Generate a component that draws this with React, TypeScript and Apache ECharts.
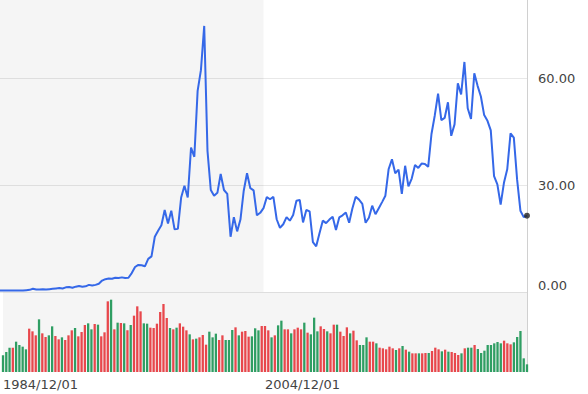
import React, { useEffect, useRef } from "react";
import * as echarts from "echarts";

// Quarterly observations, 1984/12/01 .. 2024/12/01
const startYear = 1984;
const startMonth = 12;
const quarterCount = 161;
const dates: string[] = [];
for (let i = 0; i < quarterCount; i++) {
  const m = startYear * 12 + (startMonth - 1) + i * 3;
  const y = Math.floor(m / 12);
  const mo = (m % 12) + 1;
  dates.push(`${y}/${mo < 10 ? "0" + mo : mo}/01`);
}

const prices: number[] = [
  0.4, 0.4, 0.4, 0.4, 0.4, 0.4, 0.4, 0.4, 0.5, 0.6,
  0.9, 0.7, 0.7, 0.8, 0.7, 0.8, 0.9, 1.0, 1.1, 1.0,
  1.3, 1.4, 1.2, 1.5, 1.7, 1.5, 1.6, 2.0, 1.8, 2.0,
  2.3, 3.2, 3.6, 3.8, 3.7, 4.0, 3.9, 4.1, 3.9, 4.0,
  5.3, 7.0, 7.6, 7.5, 7.2, 9.3, 10.0, 15.5, 17.2, 18.7,
  23.0, 19.2, 22.8, 17.6, 17.7, 26.5, 29.8, 26.5, 40.5, 37.9,
  56.4, 62.2, 74.6, 39.5, 28.6, 27.0, 27.8, 33.1, 28.6, 27.5,
  15.5, 21.0, 17.0, 20.3, 28.4, 33.3, 29.1, 28.5, 21.5, 22.2,
  23.5, 26.6, 26.0, 26.7, 20.4, 18.0, 19.0, 21.0, 20.0, 21.6,
  25.6, 25.8, 19.5, 23.0, 22.6, 14.0, 12.8, 16.5, 20.0, 19.3,
  20.3, 21.1, 17.4, 20.9, 21.5, 22.3, 19.4, 23.5, 26.7, 25.9,
  24.7, 19.4, 20.8, 24.2, 21.8, 23.5, 25.2, 27.0, 34.5, 37.2,
  33.3, 34.3, 27.5, 35.4, 29.6, 31.8, 35.6, 34.8, 36.0, 35.9,
  35.1, 44.3, 49.5, 55.6, 48.2, 48.8, 53.2, 43.8, 47.0, 58.5,
  55.4, 64.5, 51.5, 48.5, 61.3, 57.8, 54.8, 49.6, 48.0, 45.3,
  32.5, 30.2, 24.5, 30.6, 34.4, 44.5, 43.3, 31.5, 22.8, 21.0,
  21.4,
];

const volumes: number[] = [
  50, 60, 73, 73, 91, 81, 76, 68, 130, 122,
  110, 158, 116, 105, 110, 137, 108, 98, 104, 96,
  110, 125, 132, 107, 120, 141, 146, 128, 144, 142,
  107, 119, 212, 217, 128, 148, 147, 146, 125, 141,
  169, 197, 182, 146, 145, 133, 132, 145, 180, 204,
  162, 132, 128, 133, 146, 136, 125, 113, 98, 100,
  104, 111, 82, 121, 104, 115, 96, 110, 96, 96,
  126, 134, 110, 121, 123, 106, 107, 131, 125, 138,
  138, 125, 104, 110, 140, 154, 128, 128, 116, 128,
  133, 128, 148, 118, 113, 163, 122, 137, 129, 122,
  116, 142, 142, 121, 108, 134, 116, 124, 95, 81,
  81, 104, 91, 91, 86, 73, 71, 68, 76, 71,
  66, 71, 78, 67, 61, 56, 56, 56, 56, 57,
  57, 63, 73, 68, 62, 67, 61, 60, 57, 51,
  56, 71, 73, 73, 81, 69, 57, 64, 81, 81,
  86, 90, 86, 94, 86, 83, 89, 105, 123, 41,
  23,
];

// "g" = up (green), "r" = down (red)
const directions: string[] = (
  "gggrggggrrrgrrggrrgrrrgrrrggrgrrrgrgrgrgrrrggrrrrrrgrgrrrgrgrrrgggrrgggrgrrrgggrrrgrggrrgrrrgrgggrrgrrgrrrgrrgggrrgrrrrrgrgrgrrgrrgrrrgrgrrrgrggrggggggggrrrggggg"
).split("");

const priceAxisMax = 81.87;
const priceInterval = 30;
const labelIndices = [0, 80];
const shadeRange = [0, 80];

const UP = "#2f9e63";
const DOWN = "#e8474c";
const GRID = "#e8e8e8";

export default function App() {
  const ref = useRef<HTMLDivElement>(null);
  useEffect(() => {
    if (!ref.current) return;
    const chart = echarts.init(ref.current, null, { renderer: "svg" });
    const last = prices.length - 1;
    const dotData = prices.map((v, i) => (i === last ? v : "-"));
    const barData = volumes.map((v, i) => ({
      value: v,
      itemStyle: { color: directions[i] === "g" ? UP : DOWN },
    }));
    const shade = {
      silent: true,
      itemStyle: { color: "rgba(0,0,0,0.04)" },
      data: [[{ xAxis: dates[shadeRange[0]] }, { xAxis: dates[shadeRange[1]] }]],
    };
    chart.setOption({
      animation: false,
      textStyle: { fontFamily: "DejaVu Sans" },
      grid: [
        { left: 0, right: 61, top: 0, height: 292 },
        { left: 0, right: 61, top: 292, height: 80 },
      ],
      xAxis: [
        {
          type: "category",
          gridIndex: 0,
          data: dates,
          boundaryGap: false,
          axisLine: { show: false },
          axisTick: { show: false },
          axisLabel: { show: false },
          splitLine: { show: false },
        },
        {
          type: "category",
          gridIndex: 1,
          data: dates,
          boundaryGap: false,
          axisLine: { show: false },
          axisTick: { show: false },
          splitLine: { show: false },
          axisLabel: {
            interval: (idx: number) => labelIndices.includes(idx),
            align: "left",
            margin: 6,
            fontSize: 13,
            color: "#444",
          },
        },
      ],
      yAxis: [
        {
          type: "value",
          gridIndex: 0,
          position: "right",
          min: 0,
          max: priceAxisMax,
          interval: priceInterval,
          axisLine: { show: true, lineStyle: { color: "#d0d0d0" } },
          axisTick: { show: false },
          splitLine: {
            show: true,
            lineStyle: { color: [GRID, GRID, GRID, "rgba(0,0,0,0)"] },
          },
          axisLabel: {
            margin: 11,
            fontSize: 13,
            color: "#444",
            showMaxLabel: false,
            formatter: (v: number) =>
              v === 0 ? "{b|" + v.toFixed(2) + "}" : v.toFixed(2),
            rich: { b: { fontSize: 13, color: "#444", padding: [0, 0, 14, 0] } },
          },
        },
        {
          type: "value",
          gridIndex: 1,
          position: "right",
          min: 0,
          max: 240,
          axisLine: { show: true, lineStyle: { color: "#d0d0d0" } },
          axisTick: { show: false },
          splitLine: { show: false },
          axisLabel: { show: false },
        },
      ],
      series: [
        {
          type: "line",
          xAxisIndex: 0,
          yAxisIndex: 0,
          data: prices,
          symbol: "none",
          lineStyle: { color: "#3568e8", width: 2 },
          itemStyle: { color: "#3568e8" },
          markArea: shade,
          z: 3,
        },
        {
          type: "scatter",
          xAxisIndex: 0,
          yAxisIndex: 0,
          data: dotData,
          symbol: "circle",
          symbolSize: 6,
          itemStyle: { color: "#222" },
          clip: false,
          z: 4,
        },
        {
          type: "bar",
          xAxisIndex: 1,
          yAxisIndex: 1,
          data: barData,
          barCategoryGap: "30%",
          markArea: shade,
        },
      ],
    });
    return () => chart.dispose();
  }, []);
  return (
    <div
      ref={ref}
      style={{ position: "absolute", left: 0, top: 0, width: 588, height: 394 }}
    />
  );
}
